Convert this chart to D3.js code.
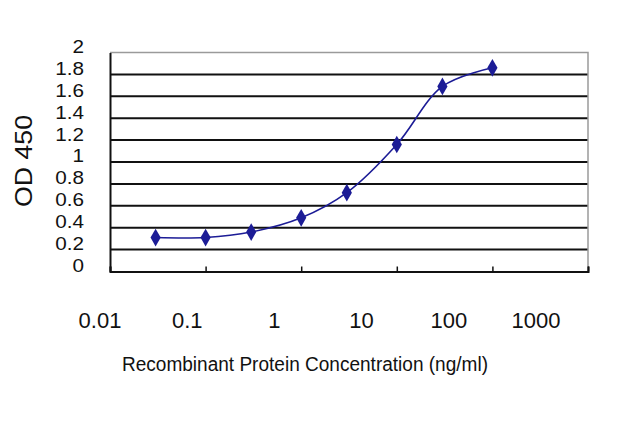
<!DOCTYPE html>
<html>
<head>
<meta charset="utf-8">
<title>OD 450 curve</title>
<script type="text/javascript" src="https://cdn.jsdelivr.net/npm/d3@7/dist/d3.min.js"></script>
<style>
body { margin:0; background:#fff; }
text { font-family: "Liberation Sans", Arial, sans-serif; fill:#111; }
</style>
</head>
<body>
<svg id="chart" width="640" height="427"></svg>
<script>
// data
var conc = [0.03, 0.1, 0.3, 1, 3, 10, 30, 100];
var od = [0.31, 0.31, 0.36, 0.49, 0.72, 1.16, 1.69, 1.86];
var xTicks = [0.01, 0.1, 1, 10, 100, 1000];
var xTickLabels = ["0.01", "0.1", "1", "10", "100", "1000"];
var yTicks = [0, 0.2, 0.4, 0.6, 0.8, 1, 1.2, 1.4, 1.6, 1.8, 2];
var yTickLabels = ["0", "0.2", "0.4", "0.6", "0.8", "1", "1.2", "1.4", "1.6", "1.8", "2"];

var svg = d3.select("#chart");
var blue = "#1c1c96";

var x = d3.scaleLog().domain([0.01, 1000]).range([110, 588]);
var y = d3.scaleLinear().domain([0, 2]).range([271.5, 52.5]);
// the tick labels sit a bit left of the ticks in the picture
var xLab = d3.scaleLog().domain([0.01, 1000]).range([100, 536]);

// grid lines
svg.selectAll("line.grid")
	.data(yTicks.filter(function(d){ return d > 0 && d < 2; }))
	.enter().append("line")
	.attr("class", "grid")
	.attr("x1", x(0.01)).attr("x2", x(1000))
	.attr("y1", function(d){ return y(d); })
	.attr("y2", function(d){ return y(d); })
	.attr("stroke", "#111").attr("stroke-width", 2);

// top and right border (grey)
svg.append("path")
	.attr("d", "M" + x(0.01) + "," + y(2) + "H" + x(1000) + "V" + y(0))
	.attr("fill", "none").attr("stroke", "#9a9a9a").attr("stroke-width", 1.5);

// x axis
var xAxis = d3.axisBottom(x).tickValues(xTicks).tickSize(-5).tickFormat("");
svg.append("g").attr("transform", "translate(0," + y(0) + ")").call(xAxis)
	.call(function(g){
		g.select(".domain").attr("stroke", "#111").attr("stroke-width", 2);
		g.selectAll(".tick line").attr("stroke", "#111").attr("stroke-width", 1.5);
	});

// y axis
var yAxis = d3.axisLeft(y).tickValues(yTicks).tickSize(0).tickFormat("");
svg.append("g").attr("transform", "translate(" + x(0.01) + ",0)").call(yAxis)
	.call(function(g){
		g.select(".domain").attr("stroke", "#111").attr("stroke-width", 2);
	});

// x tick labels
svg.selectAll("text.xl")
	.data(xTicks)
	.enter().append("text")
	.attr("class", "xl")
	.attr("x", function(d){ return xLab(d); })
	.attr("y", 328)
	.attr("text-anchor", "middle")
	.style("font-size", "22px")
	.text(function(d, i){ return xTickLabels[i]; });

// y tick labels
svg.selectAll("text.yl")
	.data(yTicks)
	.enter().append("text")
	.attr("class", "yl")
	.attr("transform", function(d){ return "translate(84," + (y(d) - 6) + ") scale(1.15,1)"; })
	.attr("dy", "0.36em")
	.attr("text-anchor", "end")
	.style("font-size", "18px")
	.text(function(d, i){ return yTickLabels[i]; });

// axis titles
svg.append("text")
	.attr("transform", "translate(32,161) rotate(-90)")
	.attr("text-anchor", "middle")
	.attr("textLength", 92).attr("lengthAdjust", "spacingAndGlyphs")
	.style("font-size", "24px")
	.text("OD 450");

svg.append("text")
	.attr("x", 305).attr("y", 371)
	.attr("text-anchor", "middle")
	.attr("textLength", 366).attr("lengthAdjust", "spacingAndGlyphs")
	.style("font-size", "20px")
	.text("Recombinant Protein Concentration (ng/ml)");

// curve
var pts = conc.map(function(c, i){ return [c, od[i]]; });
var line = d3.line()
	.x(function(d){ return x(d[0]); })
	.y(function(d){ return y(d[1]); })
	.curve(d3.curveCatmullRom.alpha(0.5));

svg.append("path").datum(pts)
	.attr("d", line)
	.attr("fill", "none").attr("stroke", blue).attr("stroke-width", 1.6);

svg.selectAll("path.pt")
	.data(pts)
	.enter().append("path")
	.attr("class", "pt")
	.attr("transform", function(d){ return "translate(" + x(d[0]) + "," + y(d[1]) + ")"; })
	.attr("d", d3.symbol().type(d3.symbolDiamond).size(90))
	.attr("fill", blue);
</script>
</body>
</html>
